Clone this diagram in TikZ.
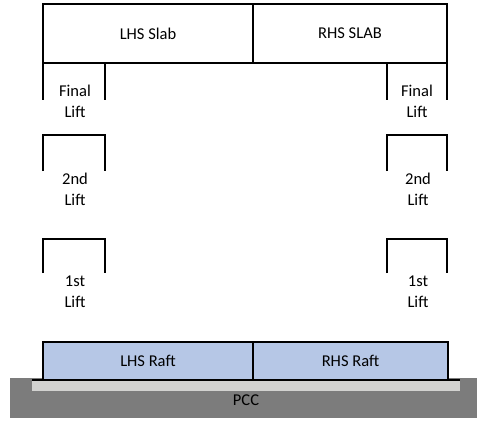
\documentclass[tikz,border=0pt]{standalone}
\usepackage{fontspec}
\setmainfont{Carlito}
\begin{document}
\begin{tikzpicture}[x=1pt,y=-1pt,
  lbl/.style={font=\fontsize{16.5}{21}\selectfont, align=center, inner sep=0pt, text=black},
  wall/.style={line width=2.6pt, black},
  slabbox/.style={draw=black, line width=2.6pt, inner sep=0pt, font=\fontsize{16.5}{21}\selectfont},
  raftbox/.style={draw=black, line width=2.6pt, fill=raftblue, inner sep=0pt, font=\fontsize{16.5}{21}\selectfont}]
\definecolor{raftblue}{HTML}{B6C7E6}
\definecolor{pccgrey}{HTML}{7C7C7C}
\definecolor{stripgrey}{HTML}{D2D2D0}
\useasboundingbox (0,0) rectangle (477,421);
% PCC
\fill[pccgrey] (10,378) rectangle (477,418);
\fill[stripgrey] (32,381) rectangle (460,391);
\node[lbl] (pcc) at (246,400) {PCC};
% slab
\node[slabbox, minimum width=210pt, minimum height=59pt] (lslab) at (148,33.5) {LHS Slab};
\node[slabbox, minimum width=194pt, minimum height=59pt] (rslab) at (350,33.5) {RHS SLAB};
% raft
\node[raftbox, minimum width=210pt, minimum height=38pt] (lraft) at (148,361) {LHS Raft};
\node[raftbox, minimum width=195pt, minimum height=38pt] (rraft) at (350.5,361) {RHS Raft};
\draw[line width=2.6pt] (32,380) -- (460,380);
% final lifts
\draw[wall] (43,63) -- (43,100);
\draw[wall] (105,63) -- (105,100);
\draw[wall] (387,63) -- (387,100);
\draw[wall] (447,63) -- (447,100);
\node[lbl] (lfinal) at (75,101) {Final\\Lift};
\node[lbl] (rfinal) at (417,101) {Final\\Lift};
% 2nd lifts
\draw[wall] (43,171) -- (43,135) -- (105,135) -- (105,171);
\draw[wall] (387,171) -- (387,135) -- (447,135) -- (447,171);
\node[lbl] (lsecond) at (75,189) {2nd\\Lift};
\node[lbl] (rsecond) at (418,189) {2nd\\Lift};
% 1st lifts
\draw[wall] (43,273) -- (43,239) -- (105,239) -- (105,273);
\draw[wall] (387,273) -- (387,239) -- (447,239) -- (447,273);
\node[lbl] (lfirst) at (75,292) {1st\\Lift};
\node[lbl] (rfirst) at (418,292) {1st\\Lift};
\end{tikzpicture}
\end{document}
